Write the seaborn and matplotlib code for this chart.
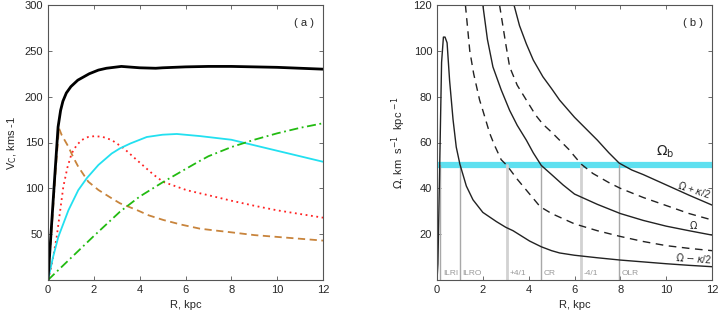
import numpy as np
import matplotlib
matplotlib.use('Agg')
import matplotlib.pyplot as plt
import seaborn as sns

# ---- panel (a): rotation curve components
r_tot = [0, 0.15, 0.3, 0.44, 0.55, 0.65, 0.8, 1.0, 1.3, 1.8, 2.2, 2.55, 3.2, 4, 4.7, 5, 6, 7, 8, 9, 10, 11, 12]
v_tot = [0, 58, 115, 167, 185, 195, 204, 211, 218, 225, 229, 231, 233, 231.5, 231, 231.5, 232.5, 233, 233, 232.5, 232, 231, 230]

r_bulge = [0, 0.2, 0.35, 0.48, 0.6, 0.89, 1.1, 1.32, 1.76, 2.2, 2.78, 3.14, 3.87, 4.4, 5.03, 5.8, 6.63, 7.3, 8, 9, 10, 11, 12]
v_bulge = [0, 70, 125, 165.5, 158, 145.4, 134, 123.6, 107.2, 98.2, 89.1, 83.7, 76.4, 70.5, 65.5, 60.5, 56, 54, 52, 49, 47, 45, 43]

r_bar = [0, 0.15, 0.38, 0.67, 0.85, 1.03, 1.25, 1.47, 1.75, 2.05, 2.4, 2.78, 3.29, 3.87, 4.6, 5.03, 6.05, 6.63, 7, 8, 9, 10, 11, 12]
v_bar = [0, 15, 47, 102, 123, 138, 147, 152.7, 156, 157, 156, 152.7, 144, 131, 115, 107, 98, 94.6, 92.5, 86.5, 81, 76, 72, 68]

r_disk = [0, 0.22, 0.45, 0.89, 1.32, 1.69, 2.2, 2.78, 3.14, 3.6, 4.31, 5, 5.62, 6.63, 8, 9, 10, 11, 12]
v_disk = [0, 25, 47, 76, 98, 111, 125.5, 138, 143.6, 149, 156, 158.5, 159.3, 157, 153, 147, 141, 135, 129]

r_halo = [0, 1, 2, 3.14, 4, 5.03, 6, 6.56, 7, 8, 9, 10, 11, 12]
v_halo = [0, 24, 48, 74.5, 91, 107, 121, 129, 135, 145, 153, 160, 166, 171]

# ---- panel (b): angular frequencies
r_om_k2 = [0, 0.04, 0.12, 0.2, 0.28, 0.35, 0.44, 0.55, 0.7, 0.84, 1.0, 1.28, 1.57, 2.0, 2.59, 3.0, 3.32,
           4.04, 4.55, 5, 5.35, 6, 7, 8, 9, 10, 11, 12]
om_m_k2 = [0, 7, 51, 95, 106, 106, 103.5, 87, 70, 58, 50.5, 41, 35, 29.5, 25.5, 23, 21.5,
           17, 14.5, 12.8, 11.8, 10.8, 9.7, 8.7, 7.9, 7.1, 6.4, 5.8]

r_om_k4m = [1.24, 1.43, 1.6, 1.86, 2.0, 2.3, 2.5, 2.8, 3.05, 3.5, 4, 4.5, 5, 6, 7, 8, 9, 10, 11, 12]
om_m_k4 = [120, 100, 90, 78.5, 74, 64, 59, 52.5, 50, 44, 38, 32, 29, 24.5, 21.5, 19, 16.8, 15, 13.8, 12.8]

r_om = [2.0, 2.2, 2.44, 2.8, 3.17, 3.5, 3.9, 4.2, 4.55, 5, 5.5, 6, 7, 8, 9, 10, 11, 12]
om = [120, 105, 93, 83, 74, 67.5, 61, 55.5, 50, 46, 41.5, 37.5, 33, 29, 26, 23.5, 21.5, 19.6]

r_om_k4p = [2.73, 3.0, 3.17, 3.5, 3.9, 4.3, 4.62, 5, 5.35, 5.75, 6.0, 6.3, 6.8, 7.5, 8, 9, 10, 11, 12]
om_p_k4 = [120, 103, 93, 85, 78.5, 72, 68, 64.5, 61, 57, 54, 50.5, 46.5, 42.5, 40, 36, 32.5, 29, 26.2]

r_om_k2p = [3.36, 3.6, 3.9, 4.2, 4.62, 5, 5.35, 6, 6.5, 7, 7.5, 7.95, 8.5, 9, 10, 11, 12]
om_p_k2 = [120, 111, 103, 96, 88.7, 83.5, 78.5, 71, 66, 61, 55.5, 51, 48, 46, 41.5, 37, 32.7]

omega_b = 50
res_r = [0.145, 1.0, 3.05, 4.55, 6.3, 7.95]
res_names = ['ILRI', 'ILRO', '+4/1', 'CR', '-4/1', 'OLR']
res_light = [False, False, True, False, True, False]

sns.set_style('ticks')
plt.rcParams['font.family'] = ['Liberation Sans', 'DejaVu Sans']
plt.rcParams['axes.edgecolor'] = '#555555'
plt.rcParams['mathtext.fontset'] = 'dejavusans'

fig = plt.figure(figsize=(7.18, 3.19), dpi=100)
ax1 = fig.add_axes([48 / 718, 1 - 280 / 319, 275 / 718, 275 / 319])
ax2 = fig.add_axes([437 / 718, 1 - 280 / 319, 275 / 718, 275 / 319])

# panel a
sns.lineplot(x=r_bulge, y=v_bulge, ax=ax1, color='#c8843c', lw=1.3, linestyle=(0, (4, 2.5)))
sns.lineplot(x=r_bar, y=v_bar, ax=ax1, color='#ff2222', lw=1.3, linestyle=(0, (1, 2)))
sns.lineplot(x=r_disk, y=v_disk, ax=ax1, color='#22e0f0', lw=1.3)
sns.lineplot(x=r_halo, y=v_halo, ax=ax1, color='#22bb11', lw=1.3, linestyle=(0, (5, 2, 1, 2)))
sns.lineplot(x=r_tot, y=v_tot, ax=ax1, color='black', lw=2)
ax1.set_xlim(0, 12)
ax1.set_ylim(0, 300)
ax1.set_xticks(range(0, 13, 2))
ax1.set_yticks([50, 100, 150, 200, 250, 300])
ax1.set_xlabel('R, kpc', fontsize=8)
ax1.set_ylabel('V$_\\mathrm{C}$, kms -1', fontsize=8)
ax1.text(0.93, 0.935, '( a )', transform=ax1.transAxes, ha='center', va='center', fontsize=8)

# panel b
ax2.axhline(omega_b, color='#5ee0f0', lw=4.5, zorder=1)
for r, name, light in zip(res_r, res_names, res_light):
    ax2.plot([r, r], [0, omega_b], color='#d2d2d2' if light else '#a8a8a8',
             lw=2 if light else 1, zorder=1)
    ax2.text(r + 0.12, 3, name, fontsize=6, color='#999999', ha='left', va='center')

sns.lineplot(x=r_om_k2, y=om_m_k2, ax=ax2, color='#222222', lw=1)
sns.lineplot(x=r_om_k4m, y=om_m_k4, ax=ax2, color='#222222', lw=1, linestyle=(0, (5.5, 4)))
sns.lineplot(x=r_om, y=om, ax=ax2, color='#222222', lw=1)
sns.lineplot(x=r_om_k4p, y=om_p_k4, ax=ax2, color='#222222', lw=1, linestyle=(0, (5.5, 4)))
sns.lineplot(x=r_om_k2p, y=om_p_k2, ax=ax2, color='#222222', lw=1)

ax2.text(9.95, 52.5, r'$\Omega_\mathrm{b}$', fontsize=10, ha='center', va='bottom')
ax2.text(11.2, 39.3, r'$\Omega$ + $\kappa$/2', fontsize=7, ha='center', va='center', rotation=-18)
ax2.text(11.2, 24.0, r'$\Omega$', fontsize=7, ha='center', va='center')
ax2.text(11.2, 9.6, r'$\Omega$ $-$ $\kappa$/2', fontsize=7, ha='center', va='center', rotation=-4)

ax2.set_xlim(0, 12)
ax2.set_ylim(0, 120)
ax2.set_xticks(range(0, 13, 2))
ax2.set_yticks([20, 40, 60, 80, 100, 120])
ax2.set_xlabel('R, kpc', fontsize=8)
ax2.set_ylabel('$\\Omega$, km  s$^{-1}$  kpc $^{-1}$', fontsize=8)
ax2.text(0.93, 0.935, '( b )', transform=ax2.transAxes, ha='center', va='center', fontsize=8)

for ax in (ax1, ax2):
    ax.tick_params(direction='in', top=True, right=True, length=3, width=0.6,
                   labelsize=8, color='#555555')
    for s in ax.spines.values():
        s.set_linewidth(0.8)

fig.savefig('out.png', dpi=100)
